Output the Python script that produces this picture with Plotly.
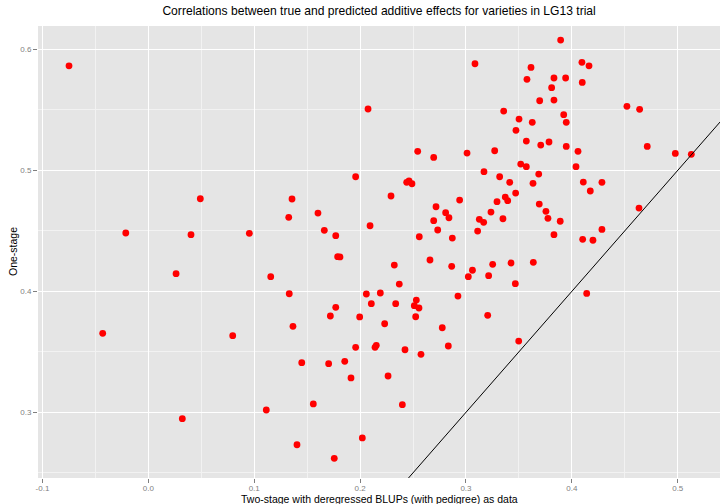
import plotly.graph_objects as go

# Two-stage (x) vs One-stage (y) correlations
two_stage = [
    -0.0749, -0.0213, 0.0403, 0.0491, 0.0954, 0.0262, -0.0431, 0.0797, 0.1114, 0.0321,
    0.3085, 0.2075, 0.2544, 0.2695, 0.3010, 0.3170, 0.1958, 0.2440, 0.2462, 0.2490,
    0.2292, 0.1357, 0.1326, 0.1602, 0.2717, 0.2940, 0.2808, 0.2839, 0.2695, 0.2733,
    0.3126, 0.3167, 0.3110, 0.2871, 0.2559, 0.1662, 0.1770, 0.2094, 0.1788, 0.1810,
    0.2323, 0.2660, 0.2865, 0.3061, 0.3022, 0.3214, 0.1156, 0.1331, 0.2059, 0.2191,
    0.2370, 0.2924, 0.2106, 0.2336, 0.2531, 0.2512, 0.2556, 0.2525, 0.1770, 0.1719,
    0.1996, 0.1366, 0.2232, 0.2776, 0.3205, 0.1958, 0.2141, 0.2153, 0.2424, 0.2575,
    0.2833, 0.1449, 0.1703, 0.1855, 0.1914, 0.2264, 0.1558, 0.2399, 0.1404, 0.2021,
    0.1756, 0.3894, 0.4095, 0.4162, 0.3614, 0.3576, 0.3831, 0.3941, 0.4098, 0.3809,
    0.3696, 0.3831, 0.4520, 0.4640, 0.3356, 0.3501, 0.3923, 0.3947, 0.3626, 0.3472,
    0.3570, 0.3706, 0.3784, 0.3947, 0.4712, 0.3271, 0.4058, 0.4977, 0.5128, 0.3517,
    0.3570, 0.4039, 0.3687, 0.3318, 0.3413, 0.3633, 0.4108, 0.4284, 0.3469, 0.4174,
    0.3371, 0.3394, 0.3293, 0.3692, 0.3755, 0.3236, 0.3774, 0.3349, 0.3890, 0.4634,
    0.3831, 0.4284, 0.4102, 0.4199, 0.3252, 0.3425, 0.3636, 0.3466, 0.4140, 0.3498,
]
one_stage = [
    0.5864, 0.4482, 0.4468, 0.4765, 0.4479, 0.4146, 0.3653, 0.3633, 0.3019, 0.2947,
    0.5881, 0.5507, 0.5157, 0.5107, 0.5143, 0.4989, 0.4947, 0.4901, 0.4912, 0.4889,
    0.4788, 0.4763, 0.4612, 0.4647, 0.4699, 0.4754, 0.4650, 0.4608, 0.4584, 0.4507,
    0.4595, 0.4570, 0.4498, 0.4440, 0.4451, 0.4504, 0.4460, 0.4542, 0.4286, 0.4284,
    0.4217, 0.4259, 0.4207, 0.4174, 0.4121, 0.4129, 0.4121, 0.3980, 0.3978, 0.3986,
    0.4060, 0.3961, 0.3898, 0.3898, 0.3928, 0.3881, 0.3862, 0.3790, 0.3868, 0.3796,
    0.3788, 0.3711, 0.3732, 0.3699, 0.3802, 0.3537, 0.3537, 0.3554, 0.3517, 0.3479,
    0.3548, 0.3410, 0.3402, 0.3421, 0.3284, 0.3300, 0.3069, 0.3063, 0.2732, 0.2788,
    0.2620, 0.6077, 0.5893, 0.5864, 0.5851, 0.5752, 0.5763, 0.5763, 0.5727, 0.5683,
    0.5575, 0.5581, 0.5529, 0.5504, 0.5490, 0.5424, 0.5460, 0.5397, 0.5397, 0.5331,
    0.5242, 0.5209, 0.5234, 0.5198, 0.5198, 0.5162, 0.5157, 0.5140, 0.5132, 0.5052,
    0.5030, 0.5030, 0.4969, 0.4947, 0.4901, 0.4893, 0.4903, 0.4901, 0.4812, 0.4829,
    0.4779, 0.4749, 0.4741, 0.4721, 0.4661, 0.4655, 0.4603, 0.4600, 0.4579, 0.4688,
    0.4468, 0.4512, 0.4430, 0.4422, 0.4223, 0.4234, 0.4240, 0.4063, 0.3983, 0.3589,
]

# identity line y = x
identity_line = [-0.2, 0.7]

x_ticks = [-0.1, 0.0, 0.1, 0.2, 0.3, 0.4, 0.5]
x_tick_labels = ["-0.1", "0.0", "0.1", "0.2", "0.3", "0.4", "0.5"]
y_ticks = [0.3, 0.4, 0.5, 0.6]
y_tick_labels = ["0.3", "0.4", "0.5", "0.6"]

title_text = "Correlations between true and predicted additive effects for varieties in LG13 trial"
x_title = "Two-stage with deregressed BLUPs (with pedigree) as data"
y_title = "One-stage"

FONT = "Liberation Sans, Arial, sans-serif"

fig = go.Figure()
fig.add_trace(go.Scatter(
    x=two_stage, y=one_stage, mode="markers",
    marker=dict(color="#FF0000", size=6.8, line=dict(width=0)),
    showlegend=False, hoverinfo="x+y",
))
fig.add_trace(go.Scatter(
    x=identity_line, y=identity_line, mode="lines",
    line=dict(color="#000000", width=1),
    showlegend=False, hoverinfo="skip",
))

axis_common = dict(
    showgrid=True, gridcolor="#FFFFFF", gridwidth=1.2,
    zeroline=False, showline=False,
    ticks="outside", ticklen=4, tickwidth=1, tickcolor="#7F7F7F",
    tickfont=dict(family=FONT, size=8, color="#7F7F7F"),
    minor=dict(showgrid=True, gridcolor="#F2F2F2", gridwidth=0.8, ticks=""),
    automargin=False,
)

fig.update_xaxes(
    range=[-0.1042, 0.5399], tickmode="array", tickvals=x_ticks, ticktext=x_tick_labels,
    minor_dtick=0.05, minor_tick0=-0.05, ticklabelstandoff=-2,
    **axis_common,
)
fig.update_yaxes(
    range=[0.2457, 0.6193], tickmode="array", tickvals=y_ticks, ticktext=y_tick_labels,
    minor_dtick=0.05, minor_tick0=0.25,
    **axis_common,
)

fig.update_layout(
    width=720, height=504,
    margin=dict(l=38, r=0, t=26, b=26),
    paper_bgcolor="#FFFFFF", plot_bgcolor="#E5E5E5",
    title=dict(text=title_text, x=0.5265, xanchor="center", y=0.988, yanchor="top",
               font=dict(family=FONT, size=12.1, color="#000000")),
    font=dict(family=FONT),
    annotations=[
        dict(text=x_title, xref="paper", yref="paper", x=0.5, y=0,
             xanchor="center", yanchor="top", yshift=-13, showarrow=False,
             font=dict(family=FONT, size=10.5, color="#000000")),
        dict(text=y_title, xref="paper", yref="paper", x=0, y=0.5,
             xanchor="center", yanchor="middle", xshift=-25, textangle=-90,
             showarrow=False, font=dict(family=FONT, size=10.5, color="#000000")),
    ],
)

fig.write_html("out.html", config={"displayModeBar": False},
               post_script="document.body.style.margin='0';")
